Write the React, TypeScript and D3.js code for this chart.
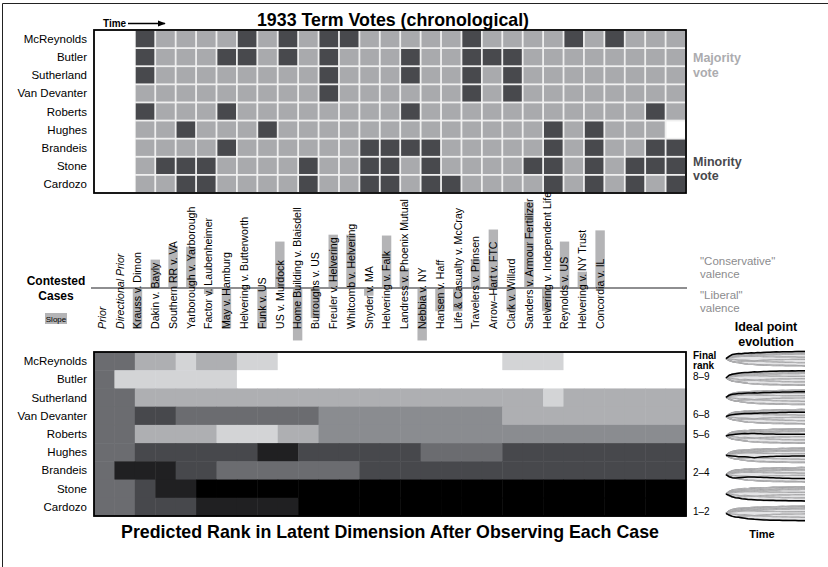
import React from "react";
import * as d3 from "d3";

const FONT = "'Liberation Sans', Arial, Helvetica, sans-serif";

const justices = ["McReynolds", "Butler", "Sutherland", "Van Devanter", "Roberts", "Hughes", "Brandeis", "Stone", "Cardozo"];
const priorLabels = ["Prior", "Directional Prior"];
const cases = [
  "Krauss v. Dimon", "Dakin v. Bayly", "Southern RR v. VA", "Yarborough v. Yarborough", "Factor v. Laubenheimer",
  "May v. Hamburg", "Helvering v. Butterworth", "Funk v. US", "US v. Murdock", "Home Building v. Blaisdell",
  "Burroughs v. US", "Freuler v. Helvering", "Whitcomb v. Helvering", "Snyder v. MA", "Helvering v. Falk",
  "Landress v. Phoenix Mutual", "Nebbia v. NY", "Hansen v. Haff", "Life & Casualty v. McCray", "Travelers v. Prinsen",
  "Arrow\u2013Hart v. FTC", "Clark v. Willard", "Sanders v. Armour Fertilizer", "Helvering v. Independent Life",
  "Reynolds v. US", "Helvering v. NY Trust", "Concordia v. IL",
];

// 0 = majority, 1 = minority, -1 = no vote
const votesMcReynolds = [1,0,0,0,0,1,0,1,0,1,1,0,0,0,0,0,1,0,0,0,0,1,0,1,0,0,0];
const votesButler = [1,0,0,0,1,1,0,1,0,1,0,0,0,1,0,0,1,1,1,0,0,0,0,0,0,0,0];
const votesSutherland = [1,0,0,0,0,0,0,0,0,1,0,0,0,1,0,0,1,0,1,0,0,0,0,0,0,0,0];
const votesVanDevanter = [0,0,0,0,0,0,0,0,0,1,0,0,0,0,0,0,1,0,1,0,0,0,0,0,0,0,0];
const votesRoberts = [1,0,0,0,1,0,0,0,0,0,0,0,0,1,0,0,0,0,0,0,0,0,0,0,0,1,0];
const votesHughes = [0,0,1,0,0,0,1,0,0,0,0,0,0,0,0,0,0,0,0,0,1,0,1,0,0,0,-1];
const votesBrandeis = [0,0,0,0,1,0,0,0,0,0,0,1,1,1,1,0,0,0,0,0,1,0,1,0,0,1,1];
const votesStone = [0,1,1,1,0,0,0,0,1,0,0,1,1,0,1,0,0,0,0,1,1,0,1,0,1,1,1];
const votesCardozo = [0,0,1,1,0,0,0,0,1,0,0,1,1,0,1,1,0,0,0,0,1,0,1,0,1,0,1];
const voteRows = [votesMcReynolds, votesButler, votesSutherland, votesVanDevanter, votesRoberts, votesHughes, votesBrandeis, votesStone, votesCardozo];

// case slope (up = conservative valence), for Prior, Directional Prior and 27 cases
const slopes = [0, 0, -0.47, 0.33, 0.49, 0.48, -0.07, -0.47, 0, -0.47, 0.54, -0.61, -0.35, 0.62, 0.62, -0.09, 0.61, 0.23, -0.61, -0.27, -0.27, 0.33, 0.68, -0.27, 1.0, -0.27, 0.54, 0.19, 0.67];

// predicted-rank shade level (0 = darkest ... 7 = lightest), 29 steps
const rankMcReynolds = [3,3,5,5,6,5,5,6,6,7,7,7,7,7,7,7,7,7,7,7,6,6,6,7,7,7,7,7,7];
const rankButler = [3,6,6,6,6,6,6,7,7,7,7,7,7,7,7,7,7,7,7,7,7,7,7,7,7,7,7,7,7];
const rankSutherland = [3,3,5,5,5,5,5,5,5,5,5,5,5,5,5,5,5,5,5,5,5,5,6,5,5,5,5,5,5];
const rankVanDevanter = [3,3,2,2,3,3,3,3,3,3,3,4,4,4,4,4,4,4,4,4,5,5,5,5,5,5,5,5,5];
const rankRoberts = [3,3,5,5,5,5,6,6,6,5,5,4,4,4,4,4,4,4,4,4,4,4,4,4,4,4,4,4,4];
const rankHughes = [3,3,2,2,2,2,2,2,1,1,2,2,2,2,2,2,3,3,3,3,2,2,2,2,2,2,2,2,2];
const rankBrandeis = [3,1,1,1,2,2,3,3,3,3,3,3,3,2,2,2,2,2,2,2,2,2,2,2,2,2,2,2,2];
const rankStone = [3,3,2,1,1,0,0,0,0,0,0,0,0,0,0,0,0,0,0,0,0,0,0,0,0,0,0,0,0];
const rankCardozo = [3,3,2,2,2,1,1,1,1,1,0,0,0,0,0,0,0,0,0,0,0,0,0,0,0,0,0,0,0];
const rankRows = [rankMcReynolds, rankButler, rankSutherland, rankVanDevanter, rankRoberts, rankHughes, rankBrandeis, rankStone, rankCardozo];
const shadeColors = ["#000000", "#202022", "#47484c", "#6b6c70", "#8a8c90", "#aeafb2", "#d3d4d6", "#ffffff"];

// ideal point trajectories over time
const idealMcReynolds = [0,0.35,0.6,0.7,0.75,0.72,0.8,0.78,0.85,0.83,0.9,0.88,0.92,0.95,0.93,0.97,1.0,0.98,1.02,1.0,1.03,1.02,1.05,1.04,1.06,1.05,1.07,1.08,1.08];
const idealButler = [0,0.4,0.55,0.62,0.7,0.78,0.82,0.8,0.86,0.9,0.88,0.93,0.95,0.94,0.98,1.0,0.99,1.02,1.03,1.02,1.04,1.05,1.04,1.06,1.07,1.06,1.08,1.09,1.1];
const idealSutherland = [0,0.3,0.45,0.5,0.55,0.58,0.6,0.62,0.64,0.66,0.65,0.68,0.7,0.7,0.72,0.73,0.74,0.76,0.78,0.77,0.8,0.8,0.81,0.82,0.82,0.83,0.84,0.84,0.85];
const idealVanDevanter = [0,0.2,0.3,0.35,0.4,0.42,0.45,0.46,0.48,0.5,0.5,0.52,0.53,0.55,0.56,0.56,0.58,0.6,0.62,0.62,0.63,0.64,0.65,0.65,0.66,0.66,0.67,0.68,0.68];
const idealRoberts = [0,0.15,0.2,0.25,0.3,0.32,0.35,0.34,0.36,0.35,0.33,0.32,0.3,0.3,0.28,0.28,0.27,0.27,0.26,0.26,0.25,0.25,0.25,0.24,0.24,0.24,0.23,0.23,0.23];
const idealHughes = [0,-0.05,-0.1,-0.15,-0.2,-0.22,-0.2,-0.25,-0.3,-0.35,-0.3,-0.25,-0.22,-0.2,-0.18,-0.16,-0.15,-0.14,-0.13,-0.12,-0.12,-0.11,-0.1,-0.1,-0.1,-0.09,-0.09,-0.08,-0.08];
const idealBrandeis = [0,-0.3,-0.45,-0.5,-0.45,-0.4,-0.38,-0.36,-0.35,-0.35,-0.37,-0.38,-0.4,-0.42,-0.45,-0.47,-0.48,-0.5,-0.52,-0.53,-0.54,-0.55,-0.56,-0.57,-0.58,-0.58,-0.59,-0.6,-0.6];
const idealStone = [0,-0.2,-0.4,-0.55,-0.6,-0.7,-0.75,-0.8,-0.82,-0.85,-0.87,-0.88,-0.9,-0.91,-0.92,-0.93,-0.94,-0.95,-0.96,-0.97,-0.98,-0.98,-0.99,-1.0,-1.0,-1.01,-1.02,-1.02,-1.03];
const idealCardozo = [0,-0.25,-0.45,-0.55,-0.58,-0.65,-0.72,-0.78,-0.82,-0.88,-0.92,-0.95,-0.97,-0.98,-1.0,-1.01,-1.02,-1.03,-1.04,-1.05,-1.05,-1.06,-1.06,-1.07,-1.07,-1.08,-1.08,-1.09,-1.1];
const idealRows = [idealMcReynolds, idealButler, idealSutherland, idealVanDevanter, idealRoberts, idealHughes, idealBrandeis, idealStone, idealCardozo];

const finalRankLabels = ["", "8\u20139", "", "6\u20138", "5\u20136", "", "2\u20134", "", "1\u20132"];

export default function App() {
  const W = 828, H = 567;
  const cols = d3.range(29);
  const gridX = d3.scaleBand<number>().domain(cols).range([94, 686]);
  const bw = gridX.bandwidth();
  const topY = d3.scaleBand<string>().domain(justices).range([30, 193]);
  const botY = d3.scaleBand<string>().domain(justices).range([352, 516]);
  const bh = topY.bandwidth();
  const allLabels = [...priorLabels, ...cases];
  const labelX = d3.scaleBand<string>().domain(allLabels).range([93, 609]);
  const lineY = 288;
  const slopeY = d3.scaleLinear().domain([-1, 1]).range([lineY + 86, lineY - 86]);
  const sparkBand = d3.scaleBand<string>().domain(justices).range([349, 523]);
  const sparkX = d3.scaleLinear().domain([0, 28]).range([726, 814]);
  const shade = d3.scaleOrdinal<number, string>().domain(d3.range(8)).range(shadeColors);
  const tIdx = d3.range(29);

  return (
    <svg width={W} height={H} style={{ position: "absolute", left: 0, top: 0, fontFamily: FONT }}>
      <defs>
        <clipPath id="sparkclip"><rect x={715} y={340} width={90} height={190} /></clipPath>
        <marker id="arr" viewBox="0 0 10 10" refX="9" refY="5" markerWidth="6" markerHeight="6" orient="auto">
          <path d="M0,1 L10,5 L0,9 z" fill="#000" />
        </marker>
      </defs>
      <rect x={0} y={0} width={W} height={H} fill="#fff" />
      <path d={`M2.5,${H + 5} V3.5 H${W + 5}`} fill="none" stroke="#222" strokeWidth={1} />

      {/* Top title */}
      <text x={393} y={26} textAnchor="middle" fontSize={17.8} fontWeight="bold">1933 Term Votes (chronological)</text>
      <text x={103} y={27} fontSize={10} fontWeight="bold">Time</text>
      <line x1={128} y1={23.5} x2={165} y2={23.5} stroke="#000" strokeWidth={1.3} markerEnd="url(#arr)" />

      {/* Top vote grid */}
      <rect x={gridX(2)} y={30} width={686 - (gridX(2) as number)} height={163} fill="#efefef" />
      {justices.map((j, ji) =>
        voteRows[ji].map((v, ci) => (
          <rect key={`v${ji}-${ci}`} x={(gridX(ci + 2) as number) + 0.9} y={(topY(j) as number) + 0.9}
            width={bw - 1.8} height={bh - 1.8}
            fill={v === 1 ? "#48494d" : v === 0 ? "#a9aaad" : "#ffffff"} />
        ))
      )}
      <rect x={94} y={30} width={592} height={163} fill="none" stroke="#000" strokeWidth={1.8} />
      {justices.map((j) => (
        <text key={`tl${j}`} x={87} y={(topY(j) as number) + bh / 2} dy="0.35em" textAnchor="end" fontSize={11.5}>{j}</text>
      ))}
      <text x={693} y={62} fontSize={12.5} fontWeight="bold" fill="#acacaf">Majority</text>
      <text x={693} y={77} fontSize={12.5} fontWeight="bold" fill="#acacaf">vote</text>
      <text x={693} y={166} fontSize={12.5} fontWeight="bold" fill="#48494d">Minority</text>
      <text x={693} y={180} fontSize={12.5} fontWeight="bold" fill="#48494d">vote</text>

      {/* Slope bars and case labels */}
      {allLabels.map((lab, i) => {
        const y1 = slopeY(slopes[i]);
        return (
          <rect key={`sb${i}`} x={(labelX(lab) as number) + labelX.bandwidth() / 2 - 4.7} y={Math.min(y1, lineY)}
            width={9.4} height={Math.abs(y1 - lineY)} fill="#b4b4b6" />
        );
      })}
      <line x1={91} x2={687} y1={lineY} y2={lineY} stroke="#8e8e90" strokeWidth={2} />
      {allLabels.map((lab, i) => {
        const cx = (labelX(lab) as number) + labelX.bandwidth() / 2;
        return (
          <text key={`cl${i}`} transform={`translate(${cx},329) rotate(-90)`} dy="0.36em"
            fontSize={10.6} fontStyle={i < 2 ? "italic" : "normal"}>
            {lab}
          </text>
        );
      })}
      <text x={56} y={285} textAnchor="middle" fontSize={12} fontWeight="bold">Contested</text>
      <text x={56} y={300} textAnchor="middle" fontSize={12} fontWeight="bold">Cases</text>
      <rect x={45} y={313} width={22} height={11} fill="#b4b4b6" />
      <text x={56} y={321.5} textAnchor="middle" fontSize={8}>Slope</text>
      <text x={700} y={265} fontSize={11.5} fill="#8c8c8e">"Conservative"</text>
      <text x={700} y={278} fontSize={11.5} fill="#8c8c8e">valence</text>
      <text x={700} y={299} fontSize={11.5} fill="#8c8c8e">"Liberal"</text>
      <text x={700} y={312} fontSize={11.5} fill="#8c8c8e">valence</text>

      {/* Bottom predicted rank heatmap */}
      {justices.map((j, ji) =>
        rankRows[ji].map((r, ci) => (
          <rect key={`r${ji}-${ci}`} x={gridX(ci) as number} y={botY(j) as number}
            width={bw + 0.5} height={botY.bandwidth() + 0.5} fill={shade(r)} />
        ))
      )}
      <rect x={94} y={352} width={592} height={164} fill="none" stroke="#000" strokeWidth={1.8} />
      {justices.map((j) => (
        <text key={`bl${j}`} x={87} y={(botY(j) as number) + botY.bandwidth() / 2} dy="0.35em" textAnchor="end" fontSize={11.5}>{j}</text>
      ))}
      <text x={390} y={538} textAnchor="middle" fontSize={17.8} fontWeight="bold">Predicted Rank in Latent Dimension After Observing Each Case</text>

      {/* Ideal point evolution */}
      <text x={766} y={331} textAnchor="middle" fontSize={12.5} fontWeight="bold">Ideal point</text>
      <text x={766} y={346} textAnchor="middle" fontSize={12.5} fontWeight="bold">evolution</text>
      <text x={693} y={359} fontSize={10} fontWeight="bold">Final</text>
      <text x={693} y={369} fontSize={10} fontWeight="bold">rank</text>
      {justices.map((j, ji) => (
        finalRankLabels[ji] ? (
          <text key={`fr${ji}`} x={693} y={(sparkBand(j) as number) + sparkBand.bandwidth() / 2 + 1.5} fontSize={10}>{finalRankLabels[ji]}</text>
        ) : null
      ))}
      <g clipPath="url(#sparkclip)">
        {justices.map((j, ji) => {
          const cy = (sparkBand(j) as number) + sparkBand.bandwidth() / 2;
          const sy = d3.scaleLinear().domain([-1.1, 1.1]).range([cy + 7.5, cy - 7.5]);
          const line = d3.line<number>().x((_, i) => sparkX(i)).y((v) => sy(v));
          const area = d3.area<number>().x((t) => sparkX(t))
            .y0((t) => sy(d3.min(idealRows, (r) => r[t]) as number))
            .y1((t) => sy(d3.max(idealRows, (r) => r[t]) as number));
          return (
            <g key={`sp${ji}`}>
              <path d={area(tIdx) as string} fill="#e4e4e6" stroke="none" />
              {idealRows.map((row, ri) => ri === ji ? null : (
                <g key={`g${ri}`}>
                  <path d={line(row) as string} fill="none" stroke="#858588" strokeWidth={1.2} />
                  <path d={line(row) as string} fill="none" stroke="#f2f2f2" strokeWidth={0.45} />
                </g>
              ))}
              <path d={line(idealRows[ji]) as string} fill="none" stroke="#000" strokeWidth={1.5} />
            </g>
          );
        })}
      </g>
      <text x={762} y={538} textAnchor="middle" fontSize={11} fontWeight="bold">Time</text>
    </svg>
  );
}
